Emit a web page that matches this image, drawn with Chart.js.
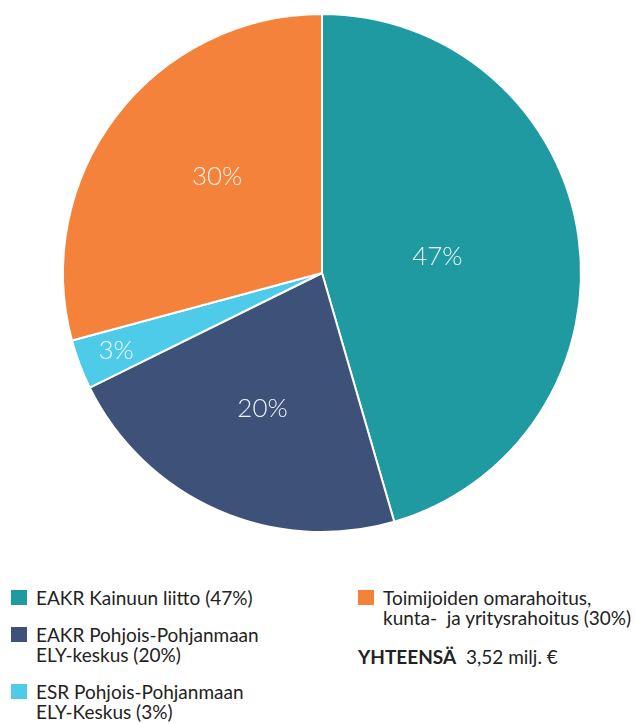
<!DOCTYPE html>
<html>
<head>
<meta charset="utf-8">
<script src="https://cdn.jsdelivr.net/npm/chart.js@4"></script>
<style>
    html, body { margin: 0; padding: 0; background: #fff; }
    body { width: 636px; height: 724px; position: relative; overflow: hidden; font-family: Lato, "Noto Sans", sans-serif; color: #222; }
    #chartBox { position: absolute; left: 0; top: 0; width: 636px; height: 546px; }
    .legend-item { position: absolute; font-size: 19px; line-height: 20px; white-space: nowrap; }
    .legend-item .box { position: absolute; left: -25px; top: 2px; width: 16px; height: 15px; }
    .total { position: absolute; left: 358px; top: 647px; font-size: 19px; line-height: 20px; white-space: nowrap; }
</style>
</head>
<body>
<div id="chartBox"><canvas id="chart1"></canvas></div>
<div id="legend"></div>
<div class="total"><b>YHTEENSÄ</b>&nbsp; 3,52 milj. €</div>
<script>
// Rahoitusosuudet (slice sizes, labels as printed)
const categories = [
    "EAKR Kainuun liitto (47%)",
    "EAKR Pohjois-Pohjanmaan\nELY-keskus (20%)",
    "ESR Pohjois-Pohjanmaan\nELY-Keskus (3%)",
    "Toimijoiden omarahoitus,\nkunta-\u00a0 ja yritysrahoitus (30%)"
];
const shares = [45.5, 22.2, 3.1, 29.2];
const sliceLabels = ["47%", "20%", "3%", "30%"];
const colors = ["#1e9aa0", "#3d5179", "#4fcbea", "#f5823b"];

// Legend positions (left, top) per item
const legendPos = [[36, 588], [36, 625], [36, 682], [383, 588]];

const legend = document.getElementById("legend");
categories.forEach((cat, i) => {
    const div = document.createElement("div");
    div.className = "legend-item";
    div.style.left = legendPos[i][0] + "px";
    div.style.top = legendPos[i][1] + "px";
    const box = document.createElement("span");
    box.className = "box";
    box.style.background = colors[i];
    div.appendChild(box);
    cat.split("\n").forEach((line, j) => {
        if (j > 0) div.appendChild(document.createElement("br"));
        div.appendChild(document.createTextNode(line));
    });
    legend.appendChild(div);
});

// Draw the percentage text inside each slice
const sliceText = {
    id: "sliceText",
    afterDatasetsDraw(chart, args, opts) {
        const ctx = chart.ctx;
        const meta = chart.getDatasetMeta(0);
        ctx.save();
        ctx.font = "300 26px Lato, 'Noto Sans', sans-serif";
        ctx.fillStyle = "rgba(255,255,255,0.92)";
        ctx.textAlign = "center";
        ctx.textBaseline = "middle";
        meta.data.forEach((arc, i) => {
            const p = arc.getProps(["x", "y", "startAngle", "endAngle", "outerRadius"], true);
            const mid = (p.startAngle + p.endAngle) / 2 + opts.shift[i];
            const r = p.outerRadius * opts.radii[i];
            ctx.fillText(sliceLabels[i], p.x + Math.cos(mid) * r, p.y + Math.sin(mid) * r);
        });
        ctx.restore();
    }
};

new Chart(document.getElementById("chart1"), {
    type: "pie",
    data: {
        labels: categories,
        datasets: [{
            data: shares,
            backgroundColor: colors,
            borderColor: "#ffffff",
            borderWidth: 2
        }]
    },
    options: {
        responsive: true,
        maintainAspectRatio: false,
        animation: false,
        layout: { padding: { top: 13, bottom: 13, left: 62, right: 54 } },
        plugins: {
            legend: { display: false },
            tooltip: { enabled: false },
            sliceText: { radii: [0.45, 0.57, 0.85, 0.55], shift: [0, 0, 0, 0.09] }
        }
    },
    plugins: [sliceText]
});
</script>
</body>
</html>
